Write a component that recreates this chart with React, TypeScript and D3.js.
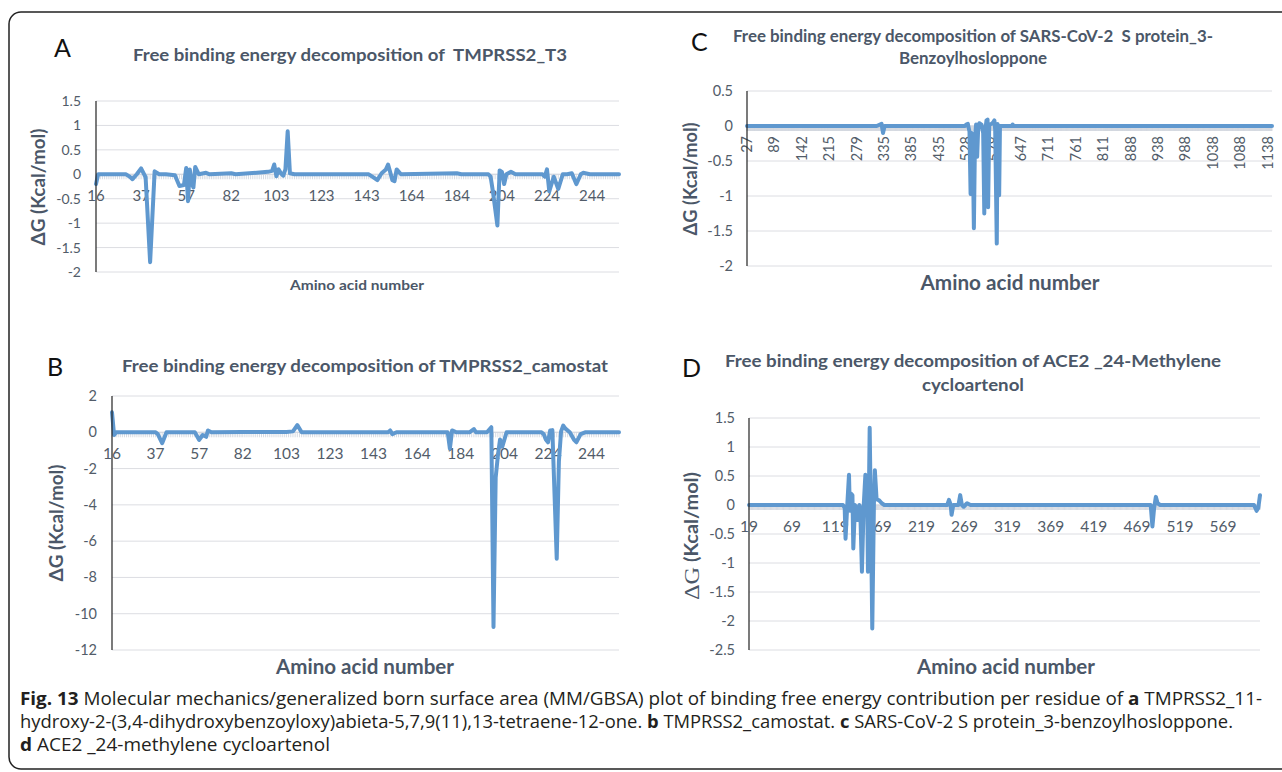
import React from 'react';
import * as d3 from 'd3';

type Pt = [number, number];

// A: TMPRSS2_T3
const ticksA = [16, 37, 57, 82, 103, 123, 143, 164, 184, 204, 224, 244];
const yTicksA = [1.5, 1, 0.5, 0, -0.5, -1, -1.5, -2];
const dgA: Pt[] = [
  [16, -0.2], [17, 0], [30, 0], [32, -0.06], [33, -0.1], [35, 0], [37, 0.12], [39, -0.06], [41, -1.8],
  [43, 0.06], [45, 0], [48, 0], [52, -0.02], [54, -0.24], [56, -0.22], [57, 0.13], [58, -0.55], [59, 0.1],
  [60, -0.18], [61, -0.27], [62, 0.15], [64, 0], [68, 0.03], [70, 0], [82, 0.02], [84, 0], [99, 0.05],
  [101, 0.07], [102, 0.2], [103, -0.04], [104, 0.1], [105, 0.02], [106, -0.03], [107, 0.1], [108, 0.88],
  [109, 0.02], [111, 0], [144, 0], [146, -0.06], [148, -0.12], [150, 0.02], [152, 0.1], [153, 0.2],
  [155, -0.12], [156, -0.14], [157, 0.1], [159, 0], [184, 0.02], [186, 0], [198, 0], [199, -0.05],
  [200, -0.35], [202, -1.05], [203, 0.08], [204, 0.05], [205, -0.2], [206, 0], [208, 0.05], [210, 0],
  [222, 0], [223, -0.05], [224, 0.1], [225, -0.35], [227, -0.05], [229, -0.3], [231, 0], [233, 0],
  [235, 0.02], [237, -0.2], [239, 0], [240, 0.03], [243, 0], [256, 0],
];

// B: TMPRSS2_camostat
const ticksB = [16, 37, 57, 82, 103, 123, 143, 164, 184, 204, 224, 244];
const yTicksB = [2, 0, -2, -4, -6, -8, -10, -12];
const dgB: Pt[] = [
  [16, 1.1], [17, -0.15], [18, 0], [37, 0], [38, -0.1], [40, -0.6], [41, -0.3], [42, 0], [55, 0],
  [57, -0.42], [59, -0.15], [61, -0.25], [62, 0.1], [64, 0], [82, 0.02], [103, 0.02], [106, 0.05],
  [108, 0.4], [110, 0], [150, 0], [151, 0.1], [152, -0.1], [154, 0], [178, 0], [179, -0.9], [180, 0.1],
  [182, 0], [188, 0], [190, 0.18], [191, 0], [196, 0], [198, 0.28], [199, -10.73], [200, -2.5],
  [201, -1.3], [202, -0.4], [203, -0.8], [205, 0], [221, 0], [222, -0.1], [223, -0.4], [224, -0.55],
  [225, 0.1], [226, 0.12], [228, -6.97], [229, -1.6], [230, 0.05], [231, 0.37], [232, 0.2], [234, 0],
  [236, -0.42], [237, -0.55], [239, -0.1], [241, 0], [256, 0],
];

// C: SARS-CoV-2 S protein_3-Benzoylhosloppone
const ticksC = [27, 89, 142, 215, 279, 335, 385, 435, 528, 578, 647, 711, 761, 811, 888, 938, 988, 1038, 1088, 1138];
const yTicksC = [0.5, 0, -0.5, -1, -1.5, -2];
const dgC: Pt[] = [
  [27, 0], [320, 0], [330, 0.03], [333, -0.1], [336, 0], [524, 0], [528, 0.02], [531, 0.03], [534, -0.08],
  [536, -0.97], [538, -0.1], [540, -0.3], [542, -1.46], [544, -0.2], [546, 0.02], [548, -0.44], [550, 0],
  [552, 0.04], [556, 0.02], [559, -0.1], [561, -1.25], [563, -0.05], [565, 0.08], [567, 0.09],
  [568, -1.16], [570, 0.02], [574, 0.03], [577, 0.05], [580, 0.08], [582, -0.05], [586, -1.68],
  [588, 0.03], [590, -0.1], [592, -0.99], [594, 0], [624, 0], [626, 0.02], [628, 0], [1147, 0],
];

// D: ACE2 _24-Methylene cycloartenol
const ticksD = [19, 69, 119, 169, 219, 269, 319, 369, 419, 469, 519, 569];
const yTicksD = [1.5, 1, 0.5, 0, -0.5, -1, -1.5, -2, -2.5];
const dgD: Pt[] = [
  [19, 0], [128, 0], [130, -0.05], [131, -0.58], [133, 0], [135, 0.52], [136, -0.1], [137, 0.2],
  [139, 0.17], [140, -0.75], [142, 0], [143, -0.05], [145, -0.26], [147, 0], [148, -0.05], [150, -1.15],
  [152, -0.03], [154, 0.52], [156, 0.3], [157, -1.15], [159, 1.33], [161, -0.9], [162, -2.13], [164, 0.1],
  [165, 0.6], [167, 0.1], [170, 0.08], [173, 0.03], [176, 0], [249, 0], [251, 0.09], [253, 0],
  [254, -0.17], [256, 0], [262, 0], [264, 0.17], [266, 0], [268, -0.03], [272, 0.03], [276, 0],
  [485, 0], [487, -0.37], [489, -0.05], [491, 0.14], [493, 0.03], [496, 0], [605, 0], [608, -0.1],
  [610, -0.05], [612, 0.17],
];

const INK = '#4b5768';
const TICK_INK = '#525c69';
const LINE = '#5f98cf';
const GRID = '#dcdde2';
const SANS = 'Lato, "Open Sans", sans-serif';

type PanelProps = {
  letter: string;
  letterAt: [number, number];
  titles: string[];
  titleX: number;
  titleY: number[];
  titleW: number[];
  box: [number, number, number, number];
  xStep: number;
  xTicks: number[];
  xEnd: number;
  yTicks: number[];
  data: Pt[];
  yTickRight: number;
  tickSize: number;
  yLabelAt: [number, number];
  yLabelW: number;
  serifDelta?: boolean;
  xLabelAt: [number, number];
  xLabelSize: number;
  xLabelW: number;
  rotated?: boolean;
  lineW: number;
};

function Panel(p: PanelProps) {
  const [left, right, top, bottom] = p.box;
  const x = d3.scaleLinear()
    .domain([...p.xTicks, p.xEnd])
    .range([...p.xTicks.map((_, i) => left + i * p.xStep), right]);
  const y = d3.scaleLinear().domain(d3.extent(p.yTicks) as [number, number]).range([bottom, top]);
  const y0 = y(0);
  const line = d3.line<Pt>().x(d => x(d[0])).y(d => y(d[1]));
  const cats = d3.range(p.xTicks[0], p.xEnd + 1);

  return (
    <g>
      <text x={p.letterAt[0]} y={p.letterAt[1]} fontFamily={SANS} fontSize={25} fill="#111">{p.letter}</text>
      {p.titles.map((t, i) => (
        <text key={i} x={p.titleX} y={p.titleY[i]} textAnchor="middle" fontFamily={SANS} fontWeight="bold"
          fontSize={17} fill={INK} textLength={p.titleW[i]} lengthAdjust="spacingAndGlyphs" xmlSpace="preserve">{t}</text>
      ))}
      {p.yTicks.map(v => (
        <line key={v} x1={left} x2={right} y1={y(v)} y2={y(v)} stroke={GRID} strokeWidth={1} />
      ))}
      {cats.map(c => (
        <line key={c} x1={x(c)} x2={x(c)} y1={y0} y2={y0 + 5} stroke="#d3d7df" strokeWidth={0.9} />
      ))}
      <line x1={left} x2={right} y1={y0} y2={y0} stroke="#d3d7df" strokeWidth={1} />
      {p.yTicks.map(v => (
        <text key={v} x={p.yTickRight} y={y(v) + 5} textAnchor="end" fontFamily={SANS}
          fontSize={p.tickSize} fill={TICK_INK}>{v}</text>
      ))}
      {p.xTicks.map(t => p.rotated ? (
        <text key={t} transform={`translate(${x(t) + 5},${y0 + 10}) rotate(-90)`} textAnchor="end"
          fontFamily={SANS} fontSize={p.tickSize} fill={TICK_INK}>{t}</text>
      ) : (
        <text key={t} x={x(t)} y={y0 + 27} textAnchor="middle" fontFamily={SANS}
          fontSize={p.tickSize + 1} fill={TICK_INK}>{t}</text>
      ))}
      <path d={line(p.data) ?? ''} fill="none" stroke={LINE} strokeWidth={p.lineW}
        strokeLinejoin="round" strokeLinecap="round" />
      <line x1={left} x2={left} y1={top} y2={bottom} stroke="#222" strokeWidth={1.2} />
      <text transform={`translate(${p.yLabelAt[0]},${p.yLabelAt[1]}) rotate(-90)`} textAnchor="middle"
        dominantBaseline="central" fontFamily={SANS} fontWeight="bold" fontSize={18} fill={INK}
        textLength={p.yLabelW} lengthAdjust="spacingAndGlyphs">
        {p.serifDelta ? (
          <>
            <tspan fontFamily='"Liberation Serif", "DejaVu Serif", serif' fontWeight="normal" fontSize={22}>ΔG</tspan>
            <tspan> (Kcal/mol)</tspan>
          </>
        ) : 'ΔG (Kcal/mol)'}
      </text>
      <text x={p.xLabelAt[0]} y={p.xLabelAt[1]} textAnchor="middle" fontFamily={SANS} fontWeight="bold"
        fontSize={p.xLabelSize} fill={INK} textLength={p.xLabelW} lengthAdjust="spacingAndGlyphs">Amino acid number</text>
    </g>
  );
}

export default function App() {
  const capFont = '"Open Sans", "Noto Sans", sans-serif';
  return (
    <svg width={1282} height={772} style={{ position: 'absolute', left: 0, top: 0, background: '#fff' }}>
      <rect x={9} y={12} width={1300} height={757} rx={12} fill="#fff" stroke="#222" strokeWidth={1.5} />

      <Panel letter="A" letterAt={[54, 57]} titles={['Free binding energy decomposition of  TMPRSS2_T3']}
        titleX={350} titleY={[61]} titleW={[434]} box={[96, 619, 101, 272]} xStep={45.1} xTicks={ticksA} xEnd={256}
        yTicks={yTicksA} data={dgA} yTickRight={81} tickSize={14} yLabelAt={[38, 187]} yLabelW={117}
        xLabelAt={[357, 290]} xLabelSize={14} xLabelW={134} lineW={4} />

      <Panel letter="B" letterAt={[47, 376]} titles={['Free binding energy decomposition of TMPRSS2_camostat']}
        titleX={365} titleY={[372]} titleW={[486]} box={[112, 619, 396, 650]} xStep={43.6} xTicks={ticksB} xEnd={256}
        yTicks={yTicksB} data={dgB} yTickRight={97} tickSize={14.5} yLabelAt={[56, 523]} yLabelW={117}
        xLabelAt={[365, 674]} xLabelSize={21} xLabelW={178} lineW={4} />

      <Panel letter="C" letterAt={[691, 51]}
        titles={['Free binding energy decomposition of SARS-CoV-2  S protein_3-', 'Benzoylhosloppone']}
        titleX={973} titleY={[42, 64]} titleW={[480, 148]} box={[747, 1272, 91, 266]}
        xStep={27.4} xTicks={ticksC} xEnd={1147} yTicks={yTicksC} data={dgC} yTickRight={733} tickSize={14.5}
        yLabelAt={[690, 179]} yLabelW={113} xLabelAt={[1010, 290]} xLabelSize={21} xLabelW={179} rotated lineW={4} />

      <Panel letter="D" letterAt={[682, 377]}
        titles={['Free binding energy decomposition of ACE2 _24-Methylene', 'cycloartenol']}
        titleX={973} titleY={[367, 391]} titleW={[496, 102]} box={[749, 1260, 418, 650]} xStep={43.1}
        xTicks={ticksD} xEnd={612} yTicks={yTicksD} data={dgD} yTickRight={735} tickSize={14.5}
        yLabelAt={[691, 536]} yLabelW={128} serifDelta xLabelAt={[1006, 674]} xLabelSize={21} xLabelW={178} lineW={4} />

      <g fontFamily={capFont} fontSize={18} fill="#231f20">
        <text x={20} y={705} textLength={1242} lengthAdjust="spacingAndGlyphs">
          <tspan fontWeight="bold">Fig. 13</tspan> Molecular mechanics/generalized born surface area (MM/GBSA) plot of binding free energy contribution per residue of <tspan fontWeight="bold">a</tspan> TMPRSS2_11-
        </text>
        <text x={20} y={728} textLength={1213} lengthAdjust="spacingAndGlyphs">
          hydroxy-2-(3,4-dihydroxybenzoyloxy)abieta-5,7,9(11),13-tetraene-12-one. <tspan fontWeight="bold">b</tspan> TMPRSS2_camostat. <tspan fontWeight="bold">c</tspan> SARS-CoV-2 S protein_3-benzoylhosloppone.
        </text>
        <text x={20} y={751} textLength={310} lengthAdjust="spacingAndGlyphs">
          <tspan fontWeight="bold">d</tspan> ACE2 _24-methylene cycloartenol
        </text>
      </g>
    </svg>
  );
}
